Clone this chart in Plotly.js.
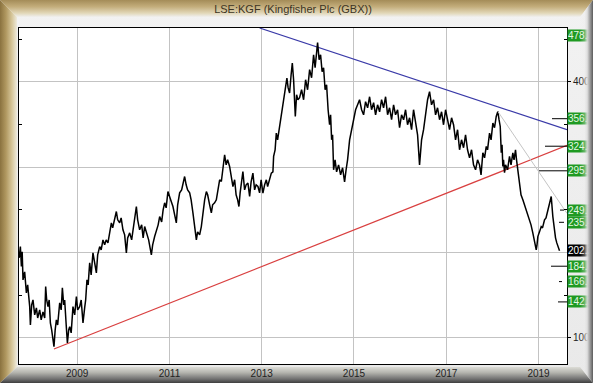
<!DOCTYPE html>
<html><head><meta charset="utf-8">
<script src="https://cdn.plot.ly/plotly-3.0.1.min.js"></script>
<style>
html,body{margin:0;padding:0;background:#ededed;}
#wrap{position:relative;width:593px;height:383px;overflow:hidden;background:linear-gradient(to bottom,#f2f2f2,#e9e9e9);}
.band{position:absolute;pointer-events:none;}
#bt{left:0;top:0;width:593px;height:17px;clip-path:polygon(0 0,100% 0,calc(100% - 13px) 100%,17px 100%);
 background:linear-gradient(to bottom,#a48c58 0%,#c4ae7c 40%,#e2d8ba 78%,#f0f0f0 100%);z-index:1;}
#bl{left:0;top:0;width:17px;height:383px;clip-path:polygon(0 0,100% 17px,100% calc(100% - 16px),0 100%);
 background:linear-gradient(to right,#8a723f 0%,#b09860 35%,#d6c69a 70%,#eeeadc 100%);z-index:1;}
#bb{left:0;top:367px;width:593px;height:16px;clip-path:polygon(17px 0,calc(100% - 13px) 0,100% 100%,0 100%);
 background:linear-gradient(to bottom,#dcdcd6 0%,#b4b4ae 35%,#707070 75%,#3e3e3e 100%);z-index:1;}
#br{left:580px;top:0;width:13px;height:383px;clip-path:polygon(0 17px,100% 0,100% 100%,0 calc(100% - 16px));
 background:linear-gradient(to right,rgba(235,235,235,0) 0%,rgba(235,235,235,0.35) 35%,rgba(222,222,222,0.92) 55%,#a2a2a2 75%,#5c5c5c 100%);z-index:3;}
#chart{position:absolute;left:0;top:0;width:593px;height:383px;z-index:2;}
</style></head>
<body><div id="wrap">
<div class="band" id="bt"></div><div class="band" id="bl"></div><div class="band" id="bb"></div>
<div id="chart"></div><div class="band" id="br"></div>
</div>
<script>
// Price series (decimal year, GBX)
const priceYears = [2007.743,2007.769,2007.791,2007.808,2007.826,2007.862,2007.899,2007.927,2007.971,2007.986,2008.014,2008.042,2008.079,2008.116,2008.144,2008.187,2008.220,2008.259,2008.296,2008.317,2008.339,2008.367,2008.393,2008.419,2008.447,2008.476,2008.497,2008.523,2008.549,2008.577,2008.621,2008.653,2008.679,2008.708,2008.729,2008.762,2008.788,2008.816,2008.838,2008.870,2008.909,2008.946,2008.983,2009.011,2009.054,2009.087,2009.126,2009.162,2009.184,2009.212,2009.238,2009.271,2009.303,2009.342,2009.379,2009.416,2009.444,2009.488,2009.520,2009.559,2009.596,2009.628,2009.667,2009.704,2009.741,2009.769,2009.813,2009.849,2009.878,2009.921,2009.953,2009.992,2010.029,2010.066,2010.094,2010.138,2010.181,2010.224,2010.283,2010.311,2010.354,2010.398,2010.430,2010.463,2010.506,2010.549,2010.608,2010.636,2010.679,2010.723,2010.755,2010.788,2010.831,2010.863,2010.896,2010.928,2010.967,2011.026,2011.076,2011.113,2011.149,2011.178,2011.221,2011.264,2011.297,2011.329,2011.362,2011.394,2011.438,2011.470,2011.509,2011.546,2011.583,2011.611,2011.654,2011.691,2011.719,2011.763,2011.800,2011.828,2011.871,2011.908,2011.936,2011.979,2012.016,2012.044,2012.088,2012.125,2012.153,2012.196,2012.229,2012.261,2012.304,2012.337,2012.376,2012.413,2012.445,2012.478,2012.506,2012.532,2012.553,2012.592,2012.629,2012.662,2012.701,2012.738,2012.770,2012.809,2012.846,2012.879,2012.918,2012.954,2012.987,2013.026,2013.063,2013.100,2013.128,2013.171,2013.208,2013.243,2013.258,2013.290,2013.316,2013.344,2013.388,2013.425,2013.453,2013.474,2013.496,2013.518,2013.546,2013.572,2013.604,2013.637,2013.663,2013.691,2013.713,2013.728,2013.756,2013.784,2013.821,2013.864,2013.908,2013.951,2013.994,2014.038,2014.081,2014.124,2014.157,2014.190,2014.211,2014.244,2014.276,2014.309,2014.341,2014.374,2014.406,2014.439,2014.471,2014.493,2014.515,2014.536,2014.558,2014.590,2014.623,2014.666,2014.710,2014.753,2014.796,2014.829,2014.861,2014.905,2014.948,2014.991,2015.035,2015.078,2015.121,2015.165,2015.208,2015.251,2015.295,2015.338,2015.381,2015.425,2015.468,2015.511,2015.555,2015.598,2015.641,2015.685,2015.728,2015.771,2015.815,2015.858,2015.901,2015.945,2015.988,2016.031,2016.075,2016.118,2016.161,2016.205,2016.248,2016.291,2016.335,2016.378,2016.421,2016.465,2016.508,2016.551,2016.595,2016.638,2016.681,2016.725,2016.768,2016.811,2016.855,2016.898,2016.941,2016.985,2017.028,2017.071,2017.115,2017.158,2017.201,2017.245,2017.288,2017.331,2017.375,2017.418,2017.461,2017.505,2017.548,2017.591,2017.635,2017.678,2017.721,2017.754,2017.793,2017.830,2017.867,2017.895,2017.938,2017.971,2018.010,2018.046,2018.083,2018.118,2018.144,2018.170,2018.192,2018.209,2018.226,2018.241,2018.263,2018.285,2018.328,2018.371,2018.404,2018.443,2018.469,2018.501,2018.523,2018.551,2018.566,2018.588,2018.620,2018.660,2018.696,2018.733,2018.761,2018.805,2018.837,2018.876,2018.913,2018.950,2018.967,2018.985,2019.021,2019.058,2019.086,2019.130,2019.162,2019.201,2019.238,2019.275,2019.310,2019.346,2019.368,2019.396,2019.422,2019.455];
const prices = [193.8,207.0,183.6,200.8,168.0,177.3,152.7,162.1,136.7,115.2,138.7,144.5,127.0,135.2,123.4,132.8,121.1,130.5,123.4,160.1,144.5,136.7,144.5,117.6,109.4,94.1,89.8,109.4,121.1,115.2,141.0,132.8,158.6,138.7,144.5,115.2,94.1,109.4,113.2,105.9,136.7,127.0,148.4,132.8,136.7,144.5,117.6,135.2,144.5,168.0,162.1,187.9,173.8,199.6,189.1,176.2,197.3,207.0,203.1,214.8,209.0,214.8,211.3,224.2,234.8,228.9,238.3,248.0,238.3,234.8,240.6,226.6,220.7,199.6,217.2,223.0,214.8,232.4,253.9,238.3,226.6,232.4,217.2,230.4,220.7,214.8,197.3,209.0,218.7,226.6,232.4,242.1,235.9,250.0,258.2,252.3,271.4,261.7,253.9,244.1,234.8,255.9,269.9,273.4,281.6,289.0,279.3,273.4,269.9,261.7,246.5,232.4,214.8,224.2,220.7,230.4,244.1,261.7,271.4,267.6,255.9,246.5,255.9,258.2,261.7,271.1,285.2,283.2,296.9,314.5,302.7,308.6,300.8,291.0,277.3,285.2,267.6,261.7,253.9,269.9,279.3,294.9,273.4,279.3,281.3,265.6,282.8,293.0,273.4,279.3,277.3,269.9,285.2,269.6,279.3,285.2,277.3,287.5,293.0,294.5,312.5,320.3,339.9,332.0,347.6,359.3,367.2,378.9,383.6,394.5,404.3,393.0,386.8,408.2,421.9,402.3,378.9,359.3,384.8,378.9,381.3,390.6,378.9,402.3,390.6,414.1,404.7,431.6,416.4,437.5,445.7,425.8,431.6,411.7,416.4,390.6,396.5,367.2,349.6,361.3,332.0,337.9,296.9,308.6,294.5,302.7,291.0,299.2,282.8,296.9,308.6,332.0,343.8,355.5,367.2,373.0,378.9,367.2,361.3,376.6,369.5,382.4,367.2,375.4,361.3,373.0,364.8,378.9,369.5,382.4,361.3,369.5,355.5,373.0,361.3,367.2,346.1,361.3,355.5,367.2,349.6,357.8,343.8,367.2,349.6,337.9,302.7,332.0,343.8,361.3,378.9,388.3,373.0,378.9,361.3,369.5,355.5,364.8,349.6,367.2,355.5,343.8,357.8,349.6,332.0,343.8,320.3,332.0,322.7,337.9,320.3,310.9,320.3,302.7,296.9,308.6,302.7,291.0,316.8,310.9,324.2,320.3,339.9,332.0,351.6,346.1,359.3,365.2,355.5,347.6,316.8,326.2,300.8,308.6,293.4,302.7,296.9,312.5,302.7,316.8,308.6,320.3,308.6,296.9,285.2,277.3,267.6,261.7,255.9,250.0,244.1,238.3,232.4,223.0,214.8,203.1,209.0,218.7,224.2,230.4,228.9,238.3,240.6,250.0,255.9,265.6,242.1,223.0,217.2,211.3,207.8,202.2];

// Trend lines
const blueYears = [2012.954, 2019.617];
const blueValues = [462.9, 343.8];
const redYears = [2008.497, 2019.617];
const redValues = [87.0, 325.5];
const greyYears = [2018.118, 2019.617];
const greyValues = [365.2, 245.8];

// Axis ticks
const xTickYears = [2009, 2011, 2013, 2015, 2017, 2019];
const yTickValues = [100, 200, 300, 400];
const yTickLabels = ['100', '', '', '400'];
const yMinorValues = [150, 250, 350, 450];

// Right-hand price labels
const levelValues = [478.3, 356.7, 324.5, 295.7, 249.7, 235.4, 202.2, 184.0, 166.0, 142.2];
const levelLabels = ['478.3', '356.7', '324.5', '295.7', '249.7', '235.4', '202.2', '184.0', '166.0', '142.2'];

// styling (pixel extents of the marker ticks left of the labels)
const levelTickStyle = [[0,0],[-15,0],[-22,0],[-28,0],[-7,-3],[-8,-3],[0,0],[-16,0],[-8,-5],[-9,0]];

const FONT = 'Liberation Sans, Arial, sans-serif';
const traces = [
  {x: redYears, y: redValues, mode: 'lines', line: {color: '#d94040', width: 1.2}, hoverinfo: 'skip'},
  {x: blueYears, y: blueValues, mode: 'lines', line: {color: '#3a3aa8', width: 1.2}, hoverinfo: 'skip'},
  {x: greyYears, y: greyValues, mode: 'lines', line: {color: '#c4c4c4', width: 1}, hoverinfo: 'skip', yaxis: 'y2'},
  {x: priceYears, y: prices, mode: 'lines', line: {color: '#000000', width: 1.5}, hoverinfo: 'skip'}
];

const annotations = levelValues.map((v, i) => {
  const top = i === 0;
  const black = levelLabels[i] === '202.2';
  return {
    xref: 'paper', x: 1, xanchor: 'left',
    yref: top ? 'paper' : 'y', y: top ? 1 : v, yanchor: top ? 'top' : 'middle', yshift: top ? -1 : 0,
    text: levelLabels[i], showarrow: false, align: 'left', width: 32,
    bgcolor: black ? '#000000' : '#1f9a22', borderpad: 0,
    font: {family: FONT, size: 10, color: black ? '#ffffff' : '#e4f8e4'}
  };
});

const shapes = [];
levelValues.forEach((v, i) => {
  const s = levelTickStyle[i];
  if (s[0] === 0 && s[1] === 0) return;
  shapes.push({type: 'line', xref: 'paper', xsizemode: 'pixel', xanchor: 1, x0: s[0], x1: s[1],
    yref: 'y', y0: v, y1: v, line: {color: '#000', width: 1}});
});

const layout = {
  width: 593, height: 383,
  margin: {l: 19, r: 26, t: 28, b: 19, pad: 0},
  paper_bgcolor: 'rgba(0,0,0,0)', plot_bgcolor: '#ffffff',
  showlegend: false,
  title: {text: 'LSE:KGF (Kingfisher Plc (GBX))', x: 0.5, xanchor: 'center', xref: 'paper',
    y: 0.975, yanchor: 'middle', yref: 'container', font: {family: FONT, size: 11, color: '#3c3424'}},
  xaxis: {range: [2007.739, 2019.617], tickmode: 'array', tickvals: xTickYears, ticktext: xTickYears.map(String),
    showgrid: true, gridcolor: '#c3c3c3', gridwidth: 1, zeroline: false,
    showline: true, linecolor: '#000', linewidth: 1, mirror: true, ticks: '',
    tickfont: {family: FONT, size: 10, color: '#222'}, fixedrange: true},
  yaxis: {range: [69.5, 462.9], side: 'right', tickmode: 'array', tickvals: yTickValues, ticktext: yTickLabels,
    ticks: 'outside', ticklen: 3, tickcolor: '#000', showgrid: true, gridcolor: '#c3c3c3', gridwidth: 1,
    zeroline: false, showline: true, linecolor: '#000', linewidth: 1, mirror: true,
    minor: {tickmode: 'array', tickvals: yMinorValues, ticks: 'inside', ticklen: 3, tickcolor: '#000', showgrid: false},
    tickfont: {family: FONT, size: 10, color: '#222'}, fixedrange: true},
  yaxis2: {range: [69.5, 462.9], overlaying: 'y', side: 'left', tickmode: 'array', tickvals: yMinorValues,
    ticks: 'inside', ticklen: 3, tickcolor: '#000', showticklabels: false, showgrid: false, zeroline: false,
    showline: false, fixedrange: true},
  annotations: annotations,
  shapes: shapes
};

Plotly.newPlot('chart', traces, layout, {staticPlot: true, displayModeBar: false});
</script>
</body></html>
